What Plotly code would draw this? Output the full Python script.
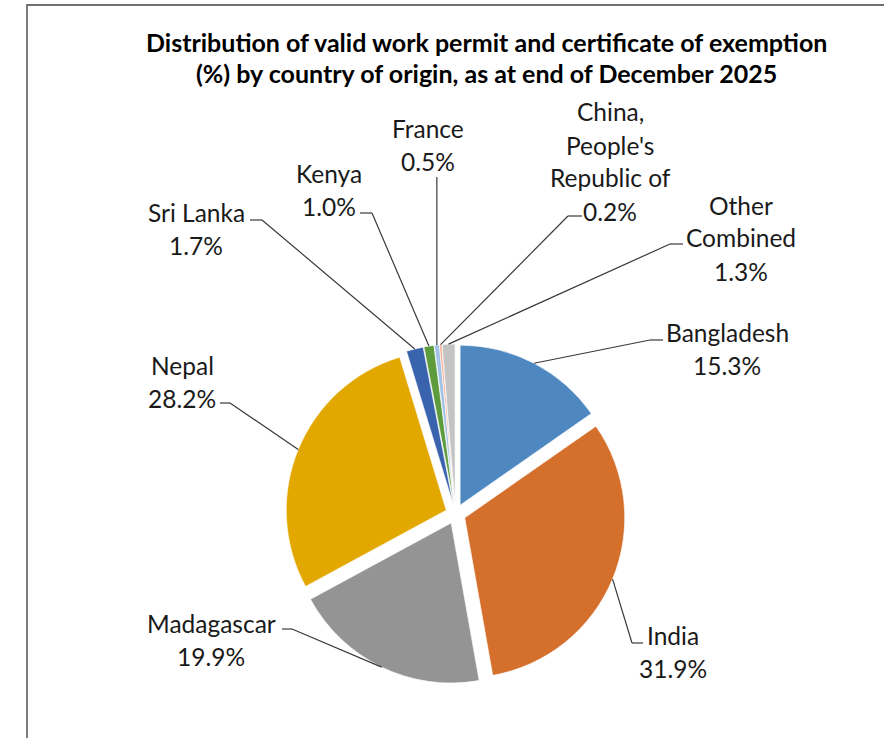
import math
import plotly.graph_objects as go

W, H = 884, 738
OFF = 0  # body margin removed via post_script

# ---------------- data ----------------
countries = ["Bangladesh", "India", "Madagascar", "Nepal", "Sri Lanka",
             "Kenya", "France", "China, People's Republic of", "Other Combined"]
shares = [15.3, 31.9, 19.9, 28.2, 1.7, 1.0, 0.5, 0.2, 1.3]
label_lines = [["Bangladesh"], ["India"], ["Madagascar"], ["Nepal"], ["Sri Lanka"],
               ["Kenya"], ["France"], ["China,", "People's", "Republic of"],
               ["Other", "Combined"]]
colors = ["#4F88C0", "#D56F2C", "#949494", "#E2A800", "#3A63AE",
          "#5D9B3C", "#A2C3E6", "#F4A282", "#C3C3C3"]
title_lines = ["Distribution of valid work permit and certificate of exemption",
               "(%) by country of origin, as at end of December 2025"]

# ---------------- layout constants (pixels on the page) ----------------
PULL = 0.0625
CX, CY, SIDE = 455.5, 514.0, 340.0      # pie centre and domain box size
FONT = "Lato, 'Open Sans', sans-serif"
LABEL_SIZE = 24.5
TITLE_SIZE = 25
LINE_GAP = 33
TXT = "#1a1a1a"
LEADER = "#3a3a3a"

# per-label: (text centre x, first line y, elbow x, elbow y, horizontal end x)
label_pos = [
    (727, 333, 650, 340, 663),
    (673, 635, 632, 643, 643),
    (211, 623, 292, 629, 282),
    (182, 365, 230, 403, 220),
    (196, 213, 262, 220, 250),
    (329, 173, 372, 213, 360),
    (428, 128, None, 177, None),
    (610, 112, 568, 216, 582),
    (741, 205, 670, 244, 683),
]


def px(x):
    return (x - OFF) / W


def py(y):
    return 1 - (y - OFF) / H


dom_x = [px(CX - SIDE / 2), px(CX + SIDE / 2)]
dom_y = [py(CY + SIDE / 2), py(CY - SIDE / 2)]

fig = go.Figure(go.Pie(
    labels=countries, values=shares, sort=False, direction="clockwise",
    rotation=0, pull=[PULL] * len(shares), textinfo="none", hoverinfo="label+percent",
    marker=dict(colors=colors, line=dict(color="white", width=0.6)),
    domain=dict(x=dom_x, y=dom_y), showlegend=False,
))

r = SIDE / (2 + 2 * PULL)
d = PULL * r
total = sum(shares)
shapes = []
annotations = []
cum = 0.0
for i, v in enumerate(shares):
    mid = (cum + v / 2) / total * 2 * math.pi
    cum += v
    sx, sy = math.sin(mid), -math.cos(mid)
    ax, ay = CX + (r + d) * sx, CY + (r + d) * sy
    tx, ty, ex, ey, hx = label_pos[i]
    if ex is None:
        ex = ax
        hx = ax
    shapes.append(dict(type="line", xref="paper", yref="paper",
                       x0=px(ax), y0=py(ay), x1=px(ex), y1=py(ey),
                       line=dict(color=LEADER, width=1.2)))
    shapes.append(dict(type="line", xref="paper", yref="paper",
                       x0=px(ex), y0=py(ey), x1=px(hx), y1=py(ey),
                       line=dict(color=LEADER, width=1.2)))
    lines = label_lines[i] + [f"{v:.1f}%"]
    for k, t in enumerate(lines):
        annotations.append(dict(text=t, x=px(tx), y=py(ty + k * LINE_GAP),
                                xref="paper", yref="paper", showarrow=False,
                                xanchor="center", yanchor="middle",
                                font=dict(family=FONT, size=LABEL_SIZE, color=TXT)))

for k, t in enumerate(title_lines):
    annotations.append(dict(text=f"<b>{t}</b>", x=px(486), y=py(42 + k * 31),
                            xref="paper", yref="paper", showarrow=False,
                            xanchor="center", yanchor="middle",
                            font=dict(family=FONT, size=TITLE_SIZE, color="#000000")))

# outer frame (cropped at right and bottom)
shapes.append(dict(type="rect", xref="paper", yref="paper",
                   x0=px(27), y0=py(H + 30), x1=px(W + 30), y1=py(5),
                   line=dict(color="#6f6f6f", width=1.8), fillcolor="rgba(0,0,0,0)"))

fig.update_layout(width=W, height=H, margin=dict(l=0, r=0, t=0, b=0),
                  paper_bgcolor="white", plot_bgcolor="white",
                  shapes=shapes, annotations=annotations)
fig.write_html("out.html", config={"displayModeBar": False},
               post_script=("document.body.style.margin='0';"
                            "document.body.style.overflow='hidden';"
                            "document.body.style.fontVariantLigatures='none';"))
